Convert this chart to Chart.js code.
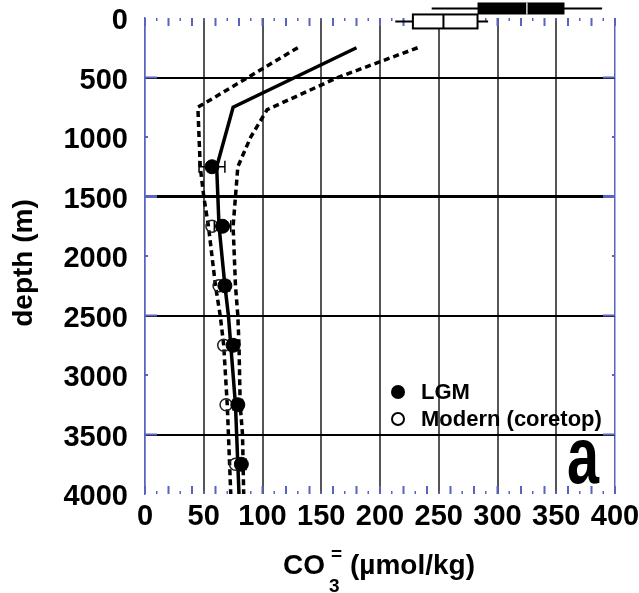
<!DOCTYPE html>
<html>
<head>
<meta charset="utf-8">
<script src="https://cdn.jsdelivr.net/npm/chart.js@4"></script>
<style>
html, body { margin: 0; padding: 0; background: #fff; }
#wrap { width: 639px; height: 593px; }
</style>
</head>
<body>
<div id="wrap"><canvas id="myChart"></canvas></div>
<script>
// mean CO3= profile and its envelope (depth m, CO3 umol/kg)
const meanDepth = [250, 750, 1250, 1500, 1750, 2250, 2500, 2750, 3250, 3750, 4000];
const meanCO3 = [180, 75, 61, 62, 63, 68, 71, 73, 77, 79, 80];
const lowDepth = [250, 750, 1000, 1250, 1500, 1750, 2250, 2500, 2750, 3250, 3500, 4000];
const lowCO3 = [130, 45, 46, 47, 50, 54, 60, 64, 67, 70, 71, 73];
const highDepth = [250, 500, 770, 1000, 1250, 1500, 1750, 2250, 2500, 2750, 3250, 3500, 4000];
const highCO3 = [232, 164, 104, 90, 79, 77, 75, 77, 79, 80, 81, 83, 84];

// core estimates
const lgmDepth = [1250, 1750, 2250, 2750, 3250, 3750];
const lgmCO3 = [57, 66, 68, 75, 79, 82];
const lgmErr = [11, 7, 4, 4, 4, 4];
const modernDepth = [1750, 2250, 2750, 3250, 3750];
const modernCO3 = [57, 63, 67, 69, 77];

// surface box plots (LGM filled, modern open)
const boxDepth = [-80, 29];
const boxMin = [244, 213];
const boxQ1 = [283, 228];
const boxMed = [325, 254];
const boxQ3 = [357, 283];
const boxMax = [389, 292];

const xTicks = [0, 50, 100, 150, 200, 250, 300, 350, 400];
const yTicks = [0, 500, 1000, 1500, 2000, 2500, 3000, 3500, 4000];

const BLUE = '#5a62c4';
const FONT = 'Liberation Sans, Arial, sans-serif';

function pts(xs, ys) {
    return xs.map((v, i) => ({ x: v, y: ys[i] }));
}

const extras = {
    id: 'extras',
    beforeDatasetsDraw(chart) {
        const ctx = chart.ctx, x = chart.scales.x, y = chart.scales.y;
        const a = chart.chartArea;
        ctx.save();
        // blue axis ticks top / bottom
        ctx.strokeStyle = BLUE;
        for (let v = 0; v <= 400; v += 10) {
            const px = x.getPixelForValue(v);
            const len = (v / 10) % 2 === 0 ? 8 : 3;
            ctx.lineWidth = len > 3 ? 2 : 1.5;
            ctx.beginPath();
            ctx.moveTo(px, a.top); ctx.lineTo(px, a.top + len);
            ctx.moveTo(px, a.bottom); ctx.lineTo(px, a.bottom - len);
            ctx.stroke();
        }
        yTicks.forEach(d => {
            if (d === 0 || d === 4000) return;
            const py = y.getPixelForValue(d);
            const len = d % 1000 === 500 ? 12 : 3;
            ctx.lineWidth = d === 1500 ? 3 : 2;
            ctx.beginPath();
            ctx.moveTo(a.left, py); ctx.lineTo(a.left + len, py);
            ctx.moveTo(a.right, py); ctx.lineTo(a.right - len, py);
            ctx.stroke();
        });
        // error bars
        ctx.strokeStyle = '#000';
        ctx.lineWidth = 1.5;
        lgmDepth.forEach((d, i) => {
            const py = y.getPixelForValue(d);
            const x0 = x.getPixelForValue(lgmCO3[i] - lgmErr[i]);
            const x1 = x.getPixelForValue(lgmCO3[i] + lgmErr[i]);
            ctx.beginPath();
            ctx.moveTo(x0, py); ctx.lineTo(x1, py);
            ctx.moveTo(x0, py - 6); ctx.lineTo(x0, py + 6);
            ctx.moveTo(x1, py - 6); ctx.lineTo(x1, py + 6);
            ctx.stroke();
        });
        ctx.restore();
    },
    afterDraw(chart) {
        const ctx = chart.ctx, x = chart.scales.x, y = chart.scales.y;
        ctx.save();
        // box plots above the top axis
        boxDepth.forEach((d, i) => {
            const py = y.getPixelForValue(d);
            const h = i === 0 ? 6 : 7;
            ctx.strokeStyle = '#000';
            ctx.lineWidth = 2;
            ctx.beginPath();
            ctx.moveTo(x.getPixelForValue(boxMin[i]), py);
            ctx.lineTo(x.getPixelForValue(boxMax[i]), py);
            ctx.stroke();
            const bx0 = x.getPixelForValue(boxQ1[i]);
            const bx1 = x.getPixelForValue(boxQ3[i]);
            const mx = x.getPixelForValue(boxMed[i]);
            if (i === 0) {
                ctx.fillStyle = '#000';
                ctx.fillRect(bx0, py - h, bx1 - bx0, 2 * h);
                ctx.strokeStyle = '#ddd';
                ctx.lineWidth = 1.5;
            } else {
                ctx.fillStyle = '#fff';
                ctx.fillRect(bx0, py - h, bx1 - bx0, 2 * h);
                ctx.strokeRect(bx0, py - h, bx1 - bx0, 2 * h);
            }
            ctx.beginPath();
            ctx.moveTo(mx, py - h); ctx.lineTo(mx, py + h);
            ctx.stroke();
        });

        // legend
        ctx.fillStyle = '#000';
        ctx.strokeStyle = '#000';
        ctx.beginPath(); ctx.arc(398, 392, 7, 0, Math.PI * 2); ctx.fill();
        ctx.lineWidth = 2;
        ctx.beginPath(); ctx.arc(398, 419, 6, 0, Math.PI * 2); ctx.stroke();
        ctx.font = 'bold 22px ' + FONT;
        ctx.textAlign = 'left';
        ctx.textBaseline = 'middle';
        ctx.fillText('LGM', 421, 393);
        ctx.fillText('Modern (coretop)', 421, 420);

        // panel letter
        ctx.save();
        ctx.translate(583, 483);
        ctx.scale(0.72, 1);
        ctx.font = 'bold 80px ' + FONT;
        ctx.textAlign = 'center';
        ctx.textBaseline = 'alphabetic';
        ctx.fillText('a', 0, 0);
        ctx.restore();

        // axis titles
        ctx.save();
        ctx.translate(24, 263);
        ctx.rotate(-Math.PI / 2);
        ctx.font = 'bold 28px ' + FONT;
        ctx.textAlign = 'center';
        ctx.textBaseline = 'middle';
        ctx.fillText('depth (m)', 0, 0);
        ctx.restore();

        ctx.textAlign = 'left';
        ctx.textBaseline = 'alphabetic';
        ctx.font = 'bold 28px ' + FONT;
        ctx.fillText('CO', 283, 574);
        ctx.font = 'bold 19px ' + FONT;
        ctx.fillText('3', 329, 592);
        ctx.fillText('=', 331, 560);
        ctx.font = 'bold 28px ' + FONT;
        ctx.fillText('(\u00b5mol/kg)', 350, 574);
        ctx.restore();
    }
};

const ctx = document.getElementById('myChart').getContext('2d');
const myChart = new Chart(ctx, {
    type: 'scatter',
    data: {
        datasets: [
            {
                label: 'LGM',
                data: pts(lgmCO3, lgmDepth),
                pointRadius: 7,
                backgroundColor: '#000',
                borderColor: '#000',
                showLine: false
            },
            {
                label: 'Modern (coretop)',
                data: pts(modernCO3, modernDepth),
                pointRadius: 6,
                borderWidth: 1.5,
                backgroundColor: 'rgba(255,255,255,0)',
                borderColor: '#222',
                showLine: false
            },
            {
                label: 'mean',
                data: pts(meanCO3, meanDepth),
                showLine: true,
                borderColor: '#000',
                borderWidth: 3.5,
                pointRadius: 0
            },
            {
                label: 'low',
                data: pts(lowCO3, lowDepth),
                showLine: true,
                borderColor: '#000',
                borderWidth: 3.5,
                borderDash: [6, 4],
                pointRadius: 0
            },
            {
                label: 'high',
                data: pts(highCO3, highDepth),
                showLine: true,
                borderColor: '#000',
                borderWidth: 3.5,
                borderDash: [6, 4],
                pointRadius: 0
            }
        ]
    },
    options: {
        responsive: true,
        maintainAspectRatio: false,
        animation: false,
        layout: { padding: { top: 18, right: 24, left: 0, bottom: 0 } },
        plugins: {
            legend: { display: false },
            tooltip: { enabled: false }
        },
        scales: {
            x: {
                type: 'linear',
                min: 0,
                max: 400,
                afterBuildTicks: s => { s.ticks = xTicks.map(v => ({ value: v })); },
                afterFit: s => { s.height = 99; s.paddingLeft = 0; s.paddingRight = 0; },
                ticks: {
                    color: '#000',
                    padding: 6,
                    maxRotation: 0,
                    callback: v => String(v),
                    font: { family: FONT, size: 29, weight: 'bold' }
                },
                grid: {
                    drawTicks: false,
                    color: c => (c.tick.value === 0 || c.tick.value === 400) ? BLUE : '#555',
                    lineWidth: c => (c.tick.value === 0 || c.tick.value === 400) ? 1.5 : 2
                },
                border: { display: false }
            },
            y: {
                type: 'linear',
                reverse: true,
                min: 0,
                max: 4000,
                afterBuildTicks: s => { s.ticks = yTicks.map(v => ({ value: v })); },
                afterFit: s => { s.width = 145; s.paddingTop = 0; s.paddingBottom = 0; },
                ticks: {
                    color: '#000',
                    padding: 17,
                    labelOffset: 3,
                    callback: v => String(v),
                    font: { family: FONT, size: 29, weight: 'bold' }
                },
                grid: {
                    drawTicks: false,
                    color: c => c.tick.value % 1000 === 500 ? '#000' : 'rgba(0,0,0,0)',
                    lineWidth: c => c.tick.value === 1500 ? 3 : 2
                },
                border: { display: true, color: BLUE, width: 1.5 }
            }
        }
    },
    plugins: [extras]
});
</script>
</body>
</html>
